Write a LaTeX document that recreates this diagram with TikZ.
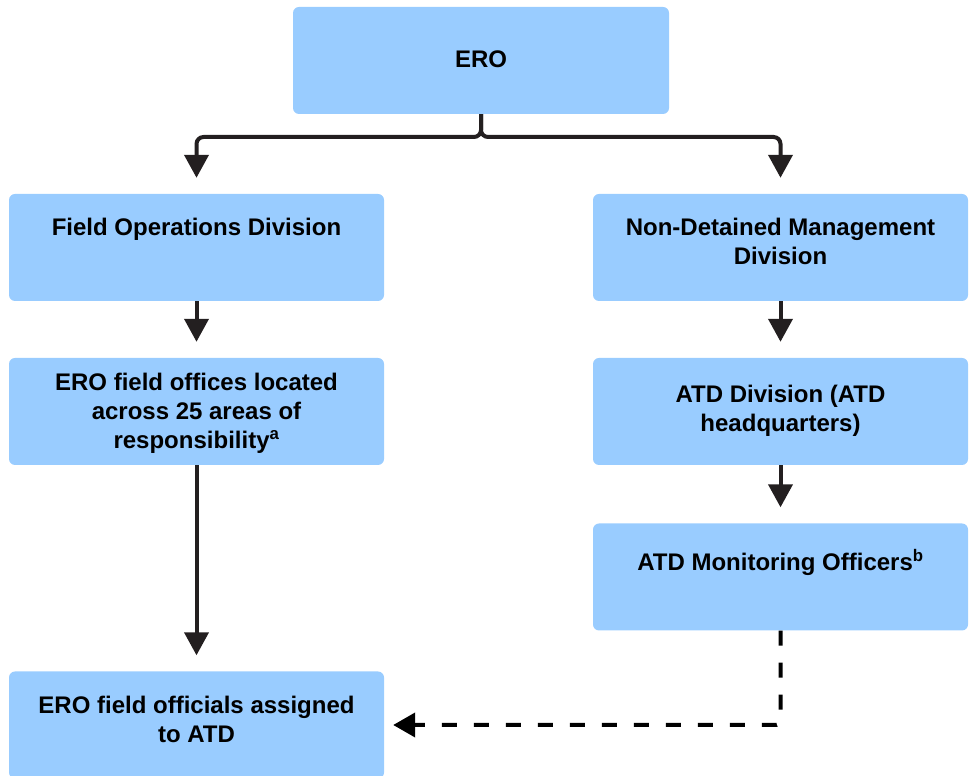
\documentclass[tikz,border=0pt]{standalone}
\usepackage{fontspec}
\setmainfont{Liberation Sans}
\usetikzlibrary{arrows.meta}
\definecolor{boxblue}{RGB}{153,204,255}
\definecolor{lineblack}{RGB}{35,31,32}
\tikzset{
  orgbox/.style={rectangle, rounded corners=6pt, fill=boxblue, minimum width=375pt, minimum height=107pt, inner sep=0pt},
  boxtext/.style={align=center, font=\fontsize{24}{29}\selectfont\bfseries, inner sep=0pt},
  conn/.style={draw=lineblack, line width=4pt, -{Triangle[length=23pt,width=24pt]}, shorten >=16pt},
  dconn/.style={draw=black, line width=4pt, dash pattern=on 15pt off 17pt, rounded corners=4pt,
    -{Triangle[length=22pt,width=24pt]}, shorten >=9pt}
}
\begin{document}
\begin{tikzpicture}[x=1pt,y=1pt]
\useasboundingbox (0,0) rectangle (972,776);
\begin{scope}
\clip (0,0) rectangle (972,776);
\node[orgbox, minimum width=376pt] (ero) at (481,715.5) {};
\node[orgbox] (fod) at (196.5,528.5) {};
\node[orgbox] (ndm) at (780.5,528.5) {};
\node[orgbox] (efo) at (196.5,364.5) {};
\node[orgbox] (atdd) at (780.5,364.5) {};
\node[orgbox] (atdm) at (780.5,199) {};
\node[orgbox] (eff) at (196.5,51) {};
\end{scope}
\node[boxtext] (erot) at ([yshift=1pt]ero.center) {ERO};
\node[boxtext] (fodt) at ([yshift=2pt]fod.center) {Field Operations Division\\\strut};
\node[boxtext] (ndmt) at ([yshift=6pt]ndm.center) {Non-Detained Management\\Division};
\node[boxtext] (efot) at ([yshift=-2pt]efo.center) {ERO field offices located\\across 25 areas of\\responsibility\textsuperscript{a}};
\node[boxtext] (atddt) at ([yshift=1pt]atdd.center) {ATD Division (ATD\\headquarters)};
\node[boxtext] (atdmt) at ([yshift=-2pt]atdm.center) {ATD Monitoring Officers\textsuperscript{b}\\\strut};
\node[boxtext] (efft) at ([yshift=5.5pt]eff.center) {ERO field officials assigned\\to ATD};
\coordinate (bar) at (0,639);
\draw[conn, rounded corners=7pt] (ero.south) |- (fod.north |- bar) -- (fod.north);
\draw[conn, rounded corners=7pt] (ero.south) |- (ndm.north |- bar) -- (ndm.north);
\draw[conn] (fod.south) -- (efo.north);
\draw[conn] (efo.south) -- (eff.north);
\draw[conn] (ndm.south) -- (atdd.north);
\draw[conn] (atdd.south) -- (atdm.north);
\coordinate (dcorner) at (0,51);
\draw[dconn] (atdm.south) |- (eff.east |- dcorner);
\end{tikzpicture}
\end{document}
